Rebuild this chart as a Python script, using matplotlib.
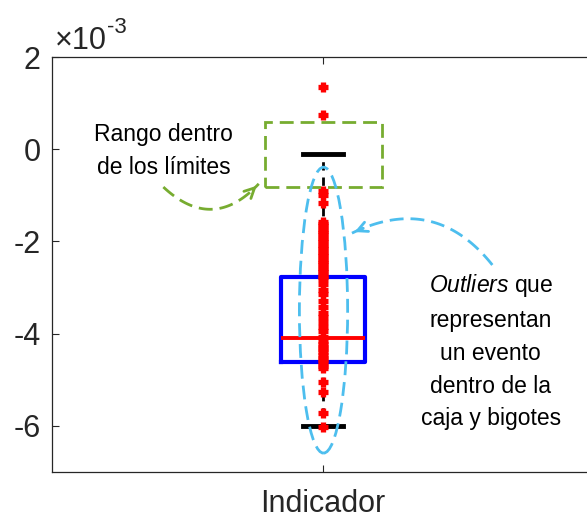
import numpy as np
import matplotlib
matplotlib.use('Agg')
import matplotlib.pyplot as plt
from matplotlib.patches import Rectangle, Ellipse
from matplotlib.ticker import FuncFormatter

plt.rcParams['font.family'] = ['Liberation Sans', 'DejaVu Sans']
plt.rcParams['axes.unicode_minus'] = False
plt.rcParams['mathtext.fontset'] = 'custom'
plt.rcParams['mathtext.rm'] = 'Liberation Sans'
plt.rcParams['mathtext.it'] = 'Liberation Sans:italic'

# --- datos (en unidades de 1e-3) ---
categoria = ['Indicador']
q1 = -4.62
mediana = -4.10
q3 = -2.78
bigote_inf = -6.00
bigote_sup = -0.10
outliers = [1.35, 0.75,
            -0.90, -1.00, -1.17,
            -1.57, -1.62, -1.67, -1.72, -1.77, -1.82, -1.87, -1.92, -1.97,
            -2.02, -2.07, -2.12, -2.17, -2.22, -2.27, -2.32, -2.37, -2.42,
            -2.47, -2.52, -2.57, -2.62, -2.67, -2.72, -2.77, -2.82,
            -2.92, -3.05, -3.15, -3.30, -3.42, -3.55, -3.63, -3.75, -3.85,
            -3.95, -4.07, -4.15, -4.22, -4.28, -4.34, -4.40, -4.46, -4.52,
            -4.58, -4.64, -4.70, -4.75,
            -5.04, -5.26, -5.72, -6.02]
yticks = [-6, -4, -2, 0, 2]
escala = 1e-3

stats = [dict(med=mediana * escala, q1=q1 * escala, q3=q3 * escala,
              whislo=bigote_inf * escala, whishi=bigote_sup * escala,
              fliers=np.array(outliers) * escala, label=categoria[0])]

fig = plt.figure(figsize=(5.87, 5.19), dpi=100)
ax = fig.add_axes([51.7 / 587, 47 / 519, 542 / 587, 415 / 519])

c_verde = '#77AC30'
c_celeste = '#4DBEEE'
c_eje = '#262626'

ax.bxp(stats, positions=[1], widths=[0.155], capwidths=[0.074],
       manage_ticks=False,
       boxprops=dict(color='#0000FF', lw=3),
       medianprops=dict(color='#FF0000', lw=2.8),
       whiskerprops=dict(color='k', lw=2, linestyle=(0, (3, 2.5))),
       capprops=dict(color='k', lw=3.5),
       flierprops=dict(marker='+', markeredgecolor='#FF0000',
                       markersize=7.5, markeredgewidth=3.8, zorder=5))

ax.set_xlim(0.5, 1.5)
ax.set_ylim(-7e-3, 2e-3)
ax.set_xticks([1])
ax.set_xticklabels(categoria)
ax.set_yticks(np.array(yticks) * escala)
ax.yaxis.set_major_formatter(FuncFormatter(lambda v, p: f'{int(round(v / escala))}'))
ax.tick_params(direction='in', top=True, right=True, length=5, width=0.8,
               labelsize=22, colors=c_eje, pad=8)
ax.tick_params(axis='x', pad=12)
for s in ax.spines.values():
    s.set_color(c_eje)
    s.set_linewidth(0.9)

# factor de escala manual
fig.text(55 / 587, 1 - 49 / 519, '×10', fontsize=22, color=c_eje, va='baseline')
fig.text(107 / 587, 1 - 33 / 519, '-3', fontsize=16, color=c_eje, va='baseline')

# rectángulo verde (rango dentro de los límites)
ax.add_patch(Rectangle((0.894, -0.82e-3), 0.215, 1.41e-3, fill=False,
                       edgecolor=c_verde, lw=2, linestyle=(0, (5, 2.5)), zorder=6))

# elipse celeste (outliers)
ax.add_patch(Ellipse((1.0015, -3.49e-3), 0.089, 6.2e-3, fill=False,
                     edgecolor=c_celeste, lw=2, linestyle=(0, (5, 2.5)), zorder=6))


def flecha_curva(p0, p1, rad, color):
    P0, P1 = ax.transData.transform([p0, p1])
    mid = (P0 + P1) / 2
    d = P1 - P0
    ctrl = mid + rad * np.array([d[1], -d[0]])
    t = np.linspace(0, 1, 60)[:, None]
    pts = (1 - t) ** 2 * P0 + 2 * (1 - t) * t * ctrl + t ** 2 * P1
    datos = ax.transData.inverted().transform(pts)
    ax.plot(datos[:, 0], datos[:, 1], color=color, lw=2,
            linestyle=(0, (5, 2.5)), clip_on=False, zorder=7)
    cola = datos[-6]
    ax.annotate('', xy=p1, xytext=cola,
                arrowprops=dict(arrowstyle='->', color=color, lw=2,
                                mutation_scale=18), zorder=7)


flecha_curva((0.706, -0.82e-3), (0.882, -0.75e-3), 0.5, c_verde)
flecha_curva((1.313, -2.51e-3), (1.054, -1.82e-3), 0.4, c_celeste)

ax.text(0.706, -0.04e-3, 'Rango dentro\nde los límites', fontsize=16.5,
        ha='center', va='center', linespacing=1.55, color='k')
ax.text(1.310, -4.38e-3,
        '$\\it{Outliers}$ que\nrepresentan\nun evento\ndentro de la\ncaja y bigotes',
        fontsize=16.5, ha='center', va='center', linespacing=1.55, color='k')

fig.savefig('out.png', dpi=100)
